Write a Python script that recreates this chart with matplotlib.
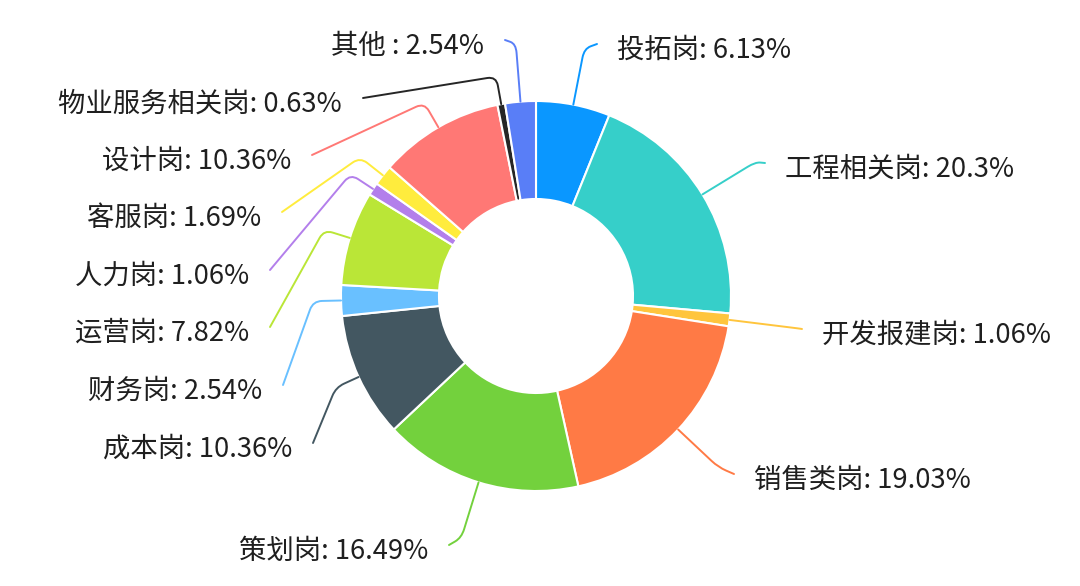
import matplotlib
matplotlib.use("Agg")
import matplotlib.pyplot as plt
import numpy as np
from matplotlib.path import Path
from matplotlib.patches import PathPatch

plt.rcParams['font.family'] = ['Noto Sans CJK SC', 'DejaVu Sans']

# Share of each job category (%), clockwise from 12 o'clock
categories = ["投拓岗", "工程相关岗", "开发报建岗", "销售类岗", "策划岗", "成本岗",
              "财务岗", "运营岗", "人力岗", "客服岗", "设计岗", "物业服务相关岗", "其他 "]
shares = [6.13, 20.3, 1.06, 19.03, 16.49, 10.36, 2.54, 7.82, 1.06, 1.69, 10.36, 0.63, 2.54]
colors = ["#0A97FF", "#36CFC9", "#FFC53D", "#FF7A45", "#73D13D", "#435761", "#69C0FF",
          "#BAE637", "#B37FEB", "#FFEC3D", "#FF7875", "#262626", "#597EF7"]

# Leader-line layout in pixels (origin top-left): radius of the elbow and end point
elbow_radius = [252, 257, 265, 250, 253, 220, 223, 222, 222, 224, 223, 223, 253]
line_ends = [(597, 44), (765, 163), (802, 329), (734, 474), (449, 545), (313, 443),
             (283, 385), (270, 327), (270, 270), (282, 212), (312, 155), (363, 98), (505, 40)]

W, H = 1080, 586
fig = plt.figure(figsize=(W / 100, H / 100), dpi=100)
ax = fig.add_axes([0, 0, 1, 1])

cx, cy = 536, 296
R_out, R_in = 195, 97
center = np.array([cx, H - cy], dtype=float)

wedges, _ = ax.pie(shares, colors=colors, startangle=90, counterclock=False,
                   center=tuple(center), radius=R_out,
                   wedgeprops=dict(width=R_out - R_in, edgecolor='white', linewidth=1.5))
ax.set_xlim(0, W)
ax.set_ylim(0, H)
ax.set_aspect('equal')
ax.axis('off')


def leader(a, b, c, color, corner=9.0):
    """Polyline a-b-c with a rounded elbow at b."""
    ab = a - b
    cb = c - b
    p1 = b + ab * min(corner / max(np.linalg.norm(ab), 1e-6), 0.5)
    p2 = b + cb * min(corner / max(np.linalg.norm(cb), 1e-6), 0.5)
    verts = [a, p1, b, p2, c]
    codes = [Path.MOVETO, Path.LINETO, Path.CURVE3, Path.CURVE3, Path.LINETO]
    ax.add_patch(PathPatch(Path(verts, codes), fill=False, edgecolor=color,
                           linewidth=1.4, capstyle='round', joinstyle='round'))


for w, name, val, col, rb, end in zip(wedges, categories, shares, colors,
                                      elbow_radius, line_ends):
    mid = np.deg2rad((w.theta1 + w.theta2) / 2.0)
    u = np.array([np.cos(mid), np.sin(mid)])
    a = center + R_out * u
    b = center + rb * u
    c = np.array([end[0], H - end[1]], dtype=float)
    leader(a, b, c, col)
    right = end[0] > cx
    tx = end[0] + 20 if right else end[0] - 21
    ty = H - (end[1] + 6)
    ax.text(tx, ty, f"{name}: {val:g}%", ha='left' if right else 'right', va='center',
            fontsize=19.7, color='#1f1f1f')

fig.savefig("out.png", dpi=100)
